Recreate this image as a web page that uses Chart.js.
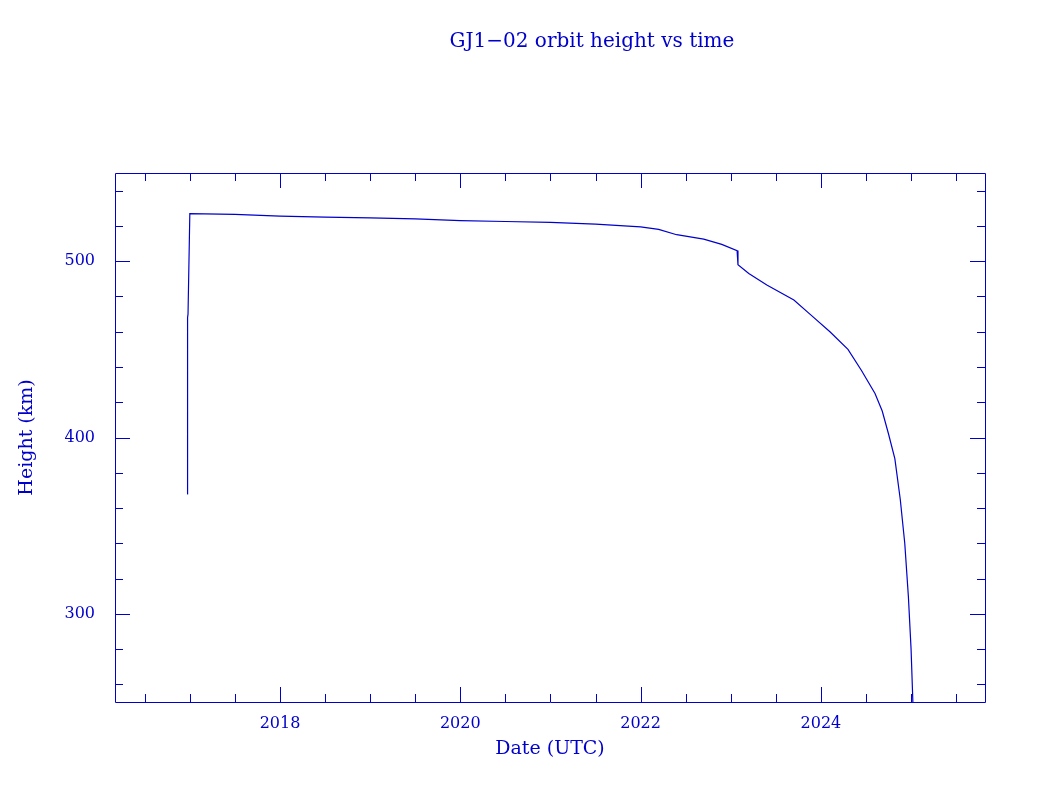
<!DOCTYPE html>
<html><head><meta charset="utf-8">
<script src="https://cdn.jsdelivr.net/npm/chart.js@4/dist/chart.umd.min.js"></script>
<style>html,body{margin:0;padding:0;background:#fff}#w{width:1046px;height:790px}</style>
</head><body><div id="w"><canvas id="c"></canvas></div>
<script>
const years = [2016.97,2016.975,2016.98,2017.0,2017.5,2018.0,2018.5,2019.0,2019.5,2020.0,2020.5,2021.0,2021.5,2022.0,2022.2,2022.4,2022.7,2022.9,2023.07,2023.08,2023.2,2023.4,2023.7,2023.9,2024.1,2024.3,2024.45,2024.6,2024.68,2024.75,2024.82,2024.88,2024.93,2024.97,2025.0,2025.02];
const heights = [368,468,470,527,526.5,525.5,525,524.5,524,523,522.5,522,521,519.5,518,515,512.5,509.5,506,498,493,486.5,478,469,460,450,438,425,415,402,388,365,340,310,280,250];
const title = "GJ1\u221202 orbit height vs time";
const xTitle = "Date (UTC)", yTitle = "Height (km)";
const xTicks = [2018,2020,2022,2024], yTicks = [300,400,500];
const col = "rgb(0,0,204)", font = "DejaVu Serif";
const boxPlugin = {id:'box', afterDraw(ch){
  const c=ch.ctx, a=ch.chartArea, x=ch.scales.x, y=ch.scales.y;
  c.save(); c.lineWidth=1;
  c.beginPath();
  c.rect(a.left+0.5,a.top+0.5,a.right-a.left,a.bottom-a.top);
  for(let i=0;i<=18;i++){const v=2016.5+i*0.5;const p=Math.round(x.getPixelForValue(v))+0.5; const L=(i%4===3)?15:8;
    c.moveTo(p,a.bottom);c.lineTo(p,a.bottom-L);c.moveTo(p,a.top);c.lineTo(p,a.top+L);}
  for(let v=260; v<=540; v+=20){const p=Math.round(y.getPixelForValue(v))+0.5; const L=(v%100===0)?15:8;
    c.moveTo(a.left,p);c.lineTo(a.left+L,p);c.moveTo(a.right,p);c.lineTo(a.right-L,p);}
  c.strokeStyle=col; c.stroke();
  c.fillStyle=col; c.font="20px "+font; c.textAlign="center"; c.textBaseline="middle";
  c.fillText(title,592,42);
  c.restore();
}};
new Chart(document.getElementById('c'),{
  type:'line',
  data:{datasets:[{data:years.map((t,i)=>({x:t,y:heights[i]})),borderColor:col,borderWidth:1.2,pointRadius:0,tension:0,fill:false}]},
  options:{responsive:true,maintainAspectRatio:false,animation:false,
    layout:{padding:{top:173,right:61,left:0,bottom:0}},
    plugins:{legend:{display:false},tooltip:{enabled:false}},
    scales:{
      x:{type:'linear',min:2016.17,max:2025.82,afterFit(s){s.height=88;},
        afterBuildTicks(s){s.ticks=xTicks.map(v=>({value:v}));},
        grid:{display:false},border:{display:false},
        ticks:{color:col,font:{family:font,size:16},padding:4,maxRotation:0,callback:v=>String(v)},
        title:{display:true,text:xTitle,color:col,font:{family:font,size:19},padding:{top:0,bottom:30}}},
      y:{min:250,max:550,afterFit(s){s.width=115;},
        afterBuildTicks(s){s.ticks=yTicks.map(v=>({value:v}));},
        grid:{display:false},border:{display:false},
        ticks:{color:col,font:{family:font,size:16},padding:12},
        title:{display:true,text:yTitle,color:col,font:{family:font,size:19},padding:{top:16,bottom:0}}}
    }},
  plugins:[boxPlugin]
});
</script></body></html>
